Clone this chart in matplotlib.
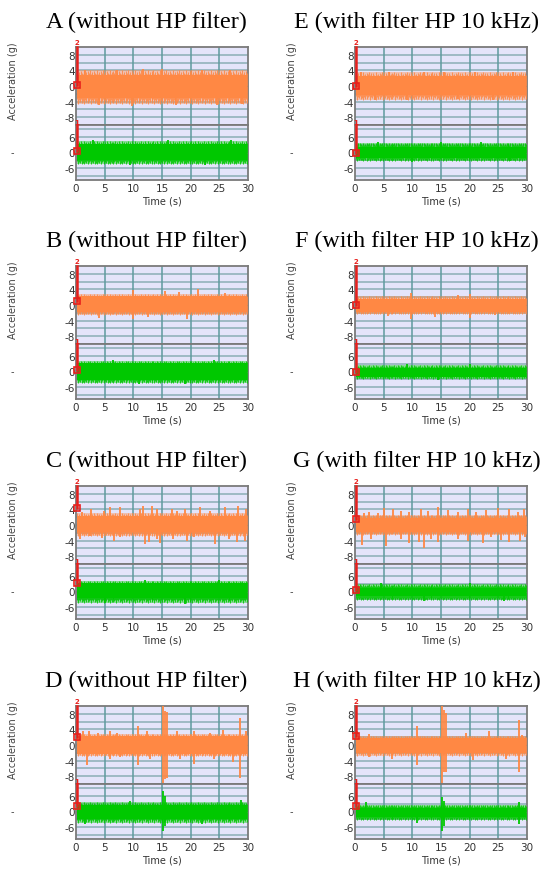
import numpy as np
import matplotlib.pyplot as plt

W, H = 543, 870

# panel titles
titles = {
    'A': 'A (without HP filter)', 'B': 'B (without HP filter)',
    'C': 'C (without HP filter)', 'D': 'D (without HP filter)',
    'E': 'E (with filter HP 10 kHz)', 'F': 'F (with filter HP 10 kHz)',
    'G': 'G (with filter HP 10 kHz)', 'H': 'H (with filter HP 10 kHz)',
}

# channel 2 (orange): solid core band and fuzzy fringe, (upper, lower) in g
orange_core = {'A': (2.8, -3.0), 'B': (2.2, -1.8), 'C': (2.4, -1.9), 'D': (2.2, -2.2),
               'E': (2.5, -2.4), 'F': (1.5, -1.7), 'G': (1.9, -1.8), 'H': (1.7, -2.0)}
orange_fringe = {'A': (4.0, -4.5), 'B': (2.8, -2.5), 'C': (3.1, -2.8), 'D': (2.9, -2.9),
                 'E': (3.5, -3.5), 'F': (2.2, -2.4), 'G': (2.6, -2.5), 'H': (2.4, -2.7)}
# channel 1 (green)
green_core = {'A': (3.2, -2.7), 'B': (3.2, -3.2), 'C': (3.2, -2.6), 'D': (2.6, -2.9),
              'E': (2.2, -2.0), 'F': (1.5, -2.0), 'G': (1.5, -1.7), 'H': (1.5, -2.0)}
green_fringe = {'A': (4.4, -4.5), 'B': (4.1, -4.5), 'C': (4.1, -4.2), 'D': (3.5, -4.2),
                'E': (3.8, -3.2), 'F': (2.4, -2.7), 'G': (2.8, -3.3), 'H': (2.6, -3.3)}

# visible peaks (time s, acceleration g)
orange_peaks = {
    'A': [(1.5, 4.2), (4.0, -4.8), (7.2, 4.1), (9.8, -5.0), (11.7, 4.3), (15.0, 4.3),
          (17.5, -4.9), (22.0, 4.2), (24.6, -4.8), (26.8, 4.1), (29.0, -4.6)],
    'B': [(4.0, -3.3), (9.9, 3.9), (9.9, -3.7), (15.5, 3.6), (18.0, 3.4), (19.3, -3.5),
          (21.3, 4.1), (12.5, -3.0), (26.0, 3.0)],
    'C': [(1.0, 3.4), (2.6, 4.1), (4.8, 3.7), (5.9, 4.5), (7.6, 4.5), (11.2, 4.1),
          (11.6, 5.0), (13.2, 4.8), (14.1, 4.1), (16.7, 4.1), (17.6, 3.7), (19.0, 4.1),
          (21.6, 4.5), (23.4, 3.7), (26.0, 4.5), (28.3, 5.0), (29.7, 4.1),
          (0.7, -3.6), (2.4, -2.9), (4.5, -3.4), (6.6, -4.0), (7.7, -3.2), (12.0, -4.9),
          (12.8, -4.3), (14.2, -3.6), (14.7, -4.5), (17.0, -3.6), (19.3, -4.0),
          (20.5, -3.2), (24.2, -4.9), (26.6, -3.6), (28.0, -4.3), (29.5, -4.0)],
    'D': [(1.3, 3.7), (2.2, 3.5), (3.9, 3.2), (5.9, 3.5), (7.1, 3.0), (10.9, 4.8),
          (12.3, 3.5), (15.1, 10.0), (15.5, 8.7), (15.9, 8.4), (17.6, 3.5), (20.5, 3.5),
          (23.4, 3.2), (25.7, 3.9), (28.6, 6.9), (29.7, 3.5),
          (2.0, -5.0), (5.9, -3.5), (7.7, -3.0), (10.9, -5.2), (12.9, -3.5),
          (15.1, -9.8), (15.5, -8.7), (15.9, -8.4), (18.1, -3.5), (20.5, -4.8),
          (24.0, -3.5), (27.4, -4.3), (28.6, -8.4)],
    'E': [(1.0, 3.6), (3.5, -3.6), (6.0, 3.5), (9.0, -3.5), (12.0, 3.6), (15.5, 3.5),
          (18.0, -3.4), (21.0, 3.5), (24.0, -3.6), (27.5, 3.5)],
    'F': [(5.8, -2.9), (9.8, 3.0), (9.8, -3.7), (14.0, -3.1), (18.0, 2.5), (20.0, 2.8),
          (20.0, -3.3), (24.5, -2.6)],
    'G': [(1.6, 3.2), (2.5, 3.3), (4.0, 3.0), (5.1, 4.4), (6.7, 4.2), (8.0, 3.6),
          (9.5, 3.3), (11.5, 4.0), (12.7, 3.6), (14.5, 4.7), (16.2, 3.8), (17.9, 3.3),
          (19.7, 4.2), (21.1, 3.3), (22.8, 3.8), (24.9, 4.4), (26.9, 4.0), (28.4, 3.3),
          (29.5, 4.2),
          (1.3, -5.0), (2.8, -3.7), (5.4, -5.4), (8.0, -3.7), (9.5, -4.5), (11.2, -4.4),
          (12.0, -5.8), (13.3, -3.7), (14.5, -4.4), (17.9, -3.5), (19.7, -4.1),
          (22.3, -4.5), (23.7, -3.2), (25.5, -3.8), (26.9, -4.4), (28.7, -4.1),
          (29.7, -3.2)],
    'H': [(0.4, 3.5), (2.4, 2.9), (10.9, 4.9), (15.1, 10.0), (15.5, 9.1), (15.9, 8.2),
          (19.3, 3.0), (23.4, 3.5), (28.6, 6.5), (29.2, 2.6),
          (2.4, -3.2), (6.5, -3.5), (10.9, -5.2), (15.1, -9.8), (15.5, -6.9),
          (15.9, -6.9), (20.5, -3.9), (26.3, -3.5), (28.6, -7.0)],
}
green_peaks = {
    'A': [(3.0, 4.6), (9.5, -4.8), (16.0, 4.7), (22.5, -4.9), (27.0, 4.6)],
    'B': [(6.5, 4.5), (11.0, -4.8), (19.0, -4.7), (24.0, 4.3)],
    'C': [(5.0, -4.5), (12.0, 4.4), (19.0, -4.6), (25.0, 4.3)],
    'D': [(1.5, -4.9), (9.5, 4.1), (15.1, 7.7), (15.1, -7.4), (15.5, 6.0), (15.5, -5.5),
          (28.7, 4.4), (22.0, -4.6)],
    'E': [(4.0, 4.0), (10.0, -3.5), (15.0, 4.0), (22.0, 3.9), (27.0, -3.4)],
    'F': [(9.0, 2.9), (14.5, -3.2), (20.0, 2.8)],
    'G': [(4.5, 3.3), (12.0, -3.8), (20.0, 3.4), (26.0, -3.6)],
    'H': [(2.0, 3.7), (10.9, -4.2), (15.1, 5.6), (15.1, -7.4), (15.5, 4.1), (15.5, -5.5),
          (28.6, 3.7), (28.6, -4.9)],
}

# red cursor markers (channel 2, channel 1)
cursor = {'A': (0.3, 0.6), 'B': (1.0, 0.6), 'C': (4.4, 3.2), 'D': (2.0, 2.2),
          'E': (0.0, 0.0), 'F': (0.0, 0.0), 'G': (1.5, 0.5), 'H': (2.4, 2.2)}

time_ticks = [0, 5, 10, 15, 20, 25, 30]

# stroke heights used to give the band edge its hatched look (fraction of fringe)
edge_strokes = [1.0, 0.78, 0.92, 0.7, 0.97, 0.84, 0.74, 1.0, 0.8, 0.9, 0.72, 0.95, 0.86]

ORANGE = '#ff8844'
GREEN = '#00c800'
BG = '#e4e4fa'
GRID_H = '#8aaeb5'
GRID_V = '#5e9a9e'
FRAME = '#7a7a7a'
RED = '#e8201c'

# layout in pixels: left, right, top (of upper axis)
cols = {'left': (76, 248), 'right': (355, 527)}
row_tops = [48, 267, 487, 707]
layout = {'A': ('left', 0), 'B': ('left', 1), 'C': ('left', 2), 'D': ('left', 3),
          'E': ('right', 0), 'F': ('right', 1), 'G': ('right', 2), 'H': ('right', 3)}

fig = plt.figure(figsize=(W / 100, H / 100), dpi=100)
fig.patch.set_facecolor('white')


def px_axes(l, r, t, b):
    return fig.add_axes([l / W, 1 - b / H, (r - l) / W, (b - t) / H])


def draw_channel(ax, core, fringe, peaks, color, lim, ticks, grid_step, cur):
    ax.set_facecolor(BG)
    ax.set_xlim(0, 30)
    ax.set_ylim(-lim, lim)
    for y in np.arange(-lim + (lim % grid_step), lim, grid_step):
        ax.axhline(y, color=GRID_H, lw=1.1, zorder=1)
    for x in time_ticks[1:-1]:
        ax.axvline(x, color=GRID_V, lw=1.1, zorder=1)
    tt = [0.15, 29.9]
    ax.fill_between(tt, fringe[1], fringe[0], color=color, alpha=0.4, lw=0, zorder=2)
    ax.fill_between(tt, core[1], core[0], color=color, lw=0, zorder=3)
    # hatched edge strokes
    st = np.arange(0.25, 29.9, 0.17)
    n = len(edge_strokes)
    up = [fringe[0] * edge_strokes[i % n] for i in range(len(st))]
    lo = [fringe[1] * edge_strokes[(i + 6) % n] for i in range(len(st))]
    ax.vlines(st, 0, up, color=color, lw=0.6, zorder=3)
    ax.vlines(st, lo, 0, color=color, lw=0.6, zorder=3)
    pt = [p[0] for p in peaks]
    pv = [p[1] for p in peaks]
    ax.vlines(pt, 0, pv, color=color, lw=1.3, zorder=4)
    ax.set_yticks(ticks)
    ax.set_yticklabels([str(t) for t in ticks])
    ax.tick_params(axis='y', length=0, pad=1, labelsize=7.5, labelcolor='#333333')
    for s in ax.spines.values():
        s.set_color(FRAME)
        s.set_linewidth(1.3)
    # red cursor
    ax.plot([0.15, 0.15], [cur, lim], color=RED, lw=1.8, zorder=5, clip_on=False)
    ax.plot([0.15], [cur], marker='s', ms=4.5, mfc='none', mec=RED, mew=1.2,
            zorder=6, clip_on=False)


for key, (col, row) in layout.items():
    l, r = cols[col]
    t = row_tops[row]
    m = t + 78
    b = t + 133
    ax1 = px_axes(l, r, t, m)
    ax2 = px_axes(l, r, m, b)
    draw_channel(ax1, orange_core[key], orange_fringe[key], orange_peaks[key], ORANGE,
                 10, [-8, -4, 0, 4, 8], 2, cursor[key][0])
    draw_channel(ax2, green_core[key], green_fringe[key], green_peaks[key], GREEN,
                 10.5, [-6, 0, 6], 3, cursor[key][1])
    ax1.set_xticks([])
    ax2.set_xticks(time_ticks)
    ax2.set_xticklabels([str(v) for v in time_ticks])
    ax2.tick_params(axis='x', length=0, pad=2, labelsize=7.5, labelcolor='#333333')
    ax2.set_xlabel('Time (s)', fontsize=7, color='#333333', labelpad=2)
    ax1.text(0.15, 10.4, '2', color=RED, fontsize=5, ha='center', va='bottom',
             fontweight='bold')
    ax2.text(0.15, 10.4, '1', color=RED, fontsize=5, ha='center', va='bottom',
             fontweight='bold')

    xl = 13 if col == 'left' else 292
    fig.text(xl / W, 1 - (t + 33) / H, 'Acceleration (g)', rotation=90, fontsize=7,
             color='#444444', ha='center', va='center')
    fig.text((xl - 1) / W, 1 - (t + 105) / H, '-', fontsize=7, color='#444444',
             ha='center', va='center')
    xc = 146 if col == 'left' else 417
    fig.text(xc / W, 1 - (t - 26) / H, titles[key], fontsize=17.4,
             family='Liberation Serif', ha='center', va='center')

fig.savefig('out.png', dpi=100)
